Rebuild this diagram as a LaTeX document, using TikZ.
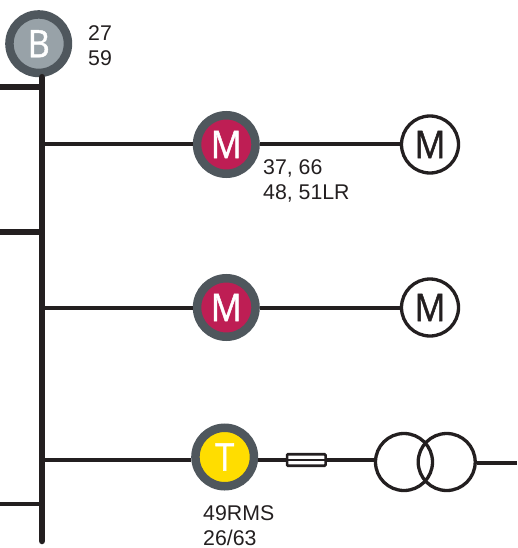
\documentclass[tikz,border=0pt]{standalone}
\usepackage{fontspec}
\setmainfont{Liberation Sans}
\newfontfamily\badgefont[FakeBold=1.2,FakeStretch=0.9]{Open Sans}
\definecolor{ink}{HTML}{231F20}
\definecolor{ringgrey}{HTML}{4F575D}
\definecolor{busgrey}{HTML}{98A2A8}
\definecolor{motorred}{HTML}{BE1E54}
\definecolor{trafoyellow}{HTML}{FFDD00}
\tikzset{
  badge/.style={circle,draw=ringgrey,line width=8.5pt,minimum size=58.5pt,inner sep=0pt,text=white,font=\badgefont\fontsize{38}{38}\selectfont},
  machine/.style={circle,draw=ink,line width=3.3pt,minimum size=57pt,inner sep=0pt,text=ink,fill=white,font=\badgefont\fontsize{38}{38}\selectfont},
  winding/.style={circle,draw=ink,line width=3.3pt,minimum size=57pt,inner sep=0pt},
  codes/.style={align=left,inner sep=0pt,text=ink,font=\fontsize{21.3}{25}\selectfont},
  feeder/.style={draw=ink,line width=4pt},
  busbar/.style={draw=ink,line width=6.5pt}
}
\begin{document}
\begin{tikzpicture}[x=1pt,y=-1pt]
\useasboundingbox (0,0) rectangle (517,548);
% busbar
\coordinate (busend) at (42,541);
\coordinate (tapA) at (42,144.5);
\coordinate (tapB) at (42,307.5);
\coordinate (tapC) at (42,460);
\coordinate (stubA) at (0,87);
\coordinate (stubB) at (0,232);
\coordinate (stubC) at (0,504);
\coordinate (outend) at (517,462.5);
\node[badge,fill=busgrey] (busrelay) at (38.7,43.7) {B};
\draw[busbar,line cap=round] (busrelay.south -| busend) -- (busend);
\draw[feeder,line width=5.5pt] (stubA) -- (stubA -| busend);
\draw[feeder,line width=5.5pt] (stubB) -- (stubB -| busend);
\draw[feeder] (stubC) -- (stubC -| busend);
% motor feeders
\node[badge,fill=motorred] (relayA) at (226.3,144.5) {M};
\node[machine] (motorA) at (430,144.5) {M};
\node[badge,fill=motorred] (relayB) at (226.3,307.5) {M};
\node[machine] (motorB) at (430,307.5) {M};
\draw[feeder] (tapA) -- (relayA);
\draw[feeder] (relayA) -- (motorA);
\draw[feeder] (tapB) -- (relayB);
\draw[feeder] (relayB) -- (motorB);
% transformer feeder
\node[badge,fill=trafoyellow] (relayC) at (224.7,457) {T};
\node[draw=ink,line width=2.6pt,rounded corners=1pt,minimum width=38.5pt,minimum height=11.5pt,inner sep=0pt] (fuse) at (306.3,460) {};
\node[winding] (trafoL) at (404,462) {};
\node[winding] (trafoR) at (446.7,462) {};
\draw[feeder] (tapC) -- (tapC -| relayC.west);
\draw[feeder] (tapC -| relayC.east) -- (fuse.west);
\draw[feeder,line width=2.6pt] (fuse.west) -- (fuse.east);
\draw[feeder] (fuse.east) -- (tapC -| trafoL.west);
\draw[feeder] (outend -| trafoR.east) -- (outend);
% relay codes
\node[codes,anchor=north west] (codesbus) at (88,25) {27\\59};
\node[codes,anchor=north west] (codesA) at (263,159) {37, 66\\48, 51LR};
\node[codes,anchor=north west] (codesC) at (203,505) {49RMS\\26/63};
\end{tikzpicture}
\end{document}
